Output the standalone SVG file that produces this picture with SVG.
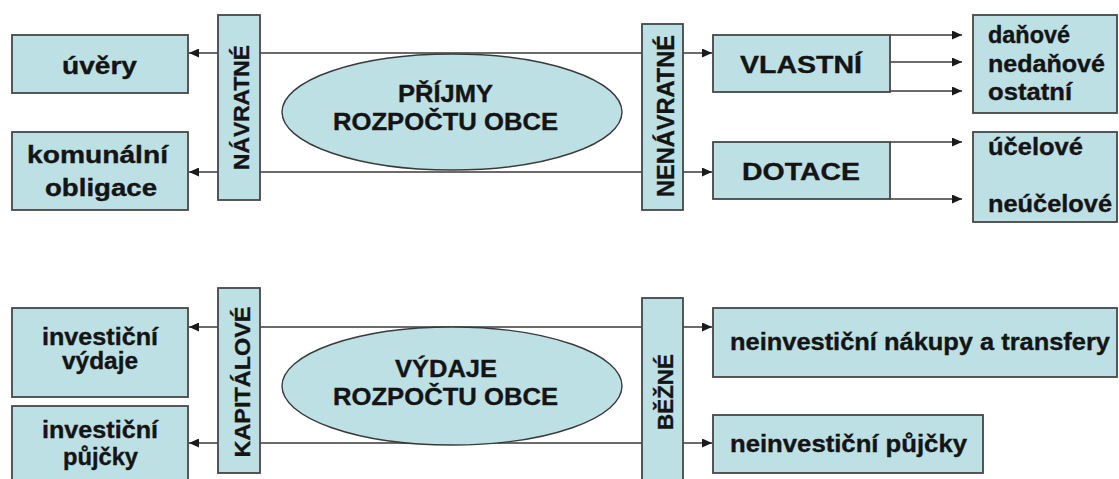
<svg xmlns="http://www.w3.org/2000/svg" width="1119" height="479" viewBox="0 0 1119 479">
<defs>
<style>
.box{fill:#bce0e4;stroke:#464646;stroke-width:1.8}
.ell{fill:#bce0e4;stroke:#3a3a3a;stroke-width:1.4}
.t{font-family:"Liberation Sans",Arial,sans-serif;font-weight:bold;font-size:23px;fill:#141414;stroke:#141414;stroke-width:0.35}
.v{font-size:22px}
.ln{stroke:#3a3a3a;stroke-width:1.5;fill:none}
.ar{stroke:#3a3a3a;stroke-width:1.5;fill:none;marker-end:url(#ah)}
</style>
<marker id="ah" markerUnits="userSpaceOnUse" markerWidth="11" markerHeight="9" refX="10" refY="4.5" orient="auto">
<path d="M0,0 L10,4.5 L0,9 Z" fill="#1a1a1a"/>
</marker>
</defs>
<rect width="1119" height="479" fill="#ffffff"/>

<g id="connectors">
<line class="ln" x1="260" y1="53" x2="642" y2="53"/>
<line class="ln" x1="260" y1="172" x2="642" y2="172"/>
<line class="ar" x1="218" y1="53" x2="189" y2="53"/>
<line class="ar" x1="218" y1="172" x2="189" y2="172"/>
<line class="ar" x1="683" y1="53" x2="712" y2="53"/>
<line class="ar" x1="683" y1="172" x2="712" y2="172"/>
<line class="ar" x1="890" y1="35" x2="962" y2="35"/>
<line class="ar" x1="890" y1="62" x2="962" y2="62"/>
<line class="ar" x1="890" y1="91" x2="962" y2="91"/>
<line class="ar" x1="890" y1="142" x2="962" y2="142"/>
<line class="ar" x1="890" y1="199" x2="962" y2="199"/>
<line class="ln" x1="260" y1="327" x2="642" y2="327"/>
<line class="ln" x1="260" y1="443" x2="642" y2="443"/>
<line class="ar" x1="218" y1="327" x2="189" y2="327"/>
<line class="ar" x1="218" y1="443" x2="189" y2="443"/>
<line class="ar" x1="683" y1="327" x2="712" y2="327"/>
<line class="ar" x1="683" y1="443" x2="712" y2="443"/>
</g>

<g id="uvery"><rect class="box" x="12" y="35" width="176" height="58"/>
<text class="t" x="62" y="74" textLength="75" lengthAdjust="spacingAndGlyphs">úvěry</text></g>
<g id="komunalni-obligace"><rect class="box" x="12" y="132" width="176" height="78"/>
<text class="t" x="27" y="163" textLength="141" lengthAdjust="spacingAndGlyphs">komunální</text>
<text class="t" x="45" y="196" textLength="112" lengthAdjust="spacingAndGlyphs">obligace</text></g>
<g id="navratne"><rect class="box" x="218" y="15" width="42" height="185"/>
<text class="t v" transform="translate(240.5,107.5) rotate(-90)" x="-62.5" y="8" textLength="125" lengthAdjust="spacingAndGlyphs">NÁVRATNÉ</text></g>
<g id="prijmy"><ellipse class="ell" cx="452" cy="112" rx="170" ry="58"/>
<text class="t" x="398" y="102" textLength="95" lengthAdjust="spacingAndGlyphs">PŘÍJMY</text>
<text class="t" x="333" y="130" textLength="225" lengthAdjust="spacingAndGlyphs">ROZPOČTU OBCE</text></g>
<g id="nenavratne"><rect class="box" x="642" y="24" width="41" height="186"/>
<text class="t" transform="translate(665,116) rotate(-90)" x="-81" y="8.5" textLength="162" lengthAdjust="spacingAndGlyphs">NENÁVRATNÉ</text></g>
<g id="vlastni"><rect class="box" x="713" y="35" width="177" height="57"/>
<text class="t" x="740" y="73" textLength="122" lengthAdjust="spacingAndGlyphs">VLASTNÍ</text></g>
<g id="dotace"><rect class="box" x="713" y="142" width="177" height="57"/>
<text class="t" x="742" y="180" textLength="118" lengthAdjust="spacingAndGlyphs">DOTACE</text></g>
<g id="danove"><rect class="box" x="973" y="15" width="144" height="98"/>
<text class="t" x="988" y="43" textLength="82" lengthAdjust="spacingAndGlyphs">daňové</text>
<text class="t" x="988" y="72" textLength="117" lengthAdjust="spacingAndGlyphs">nedaňové</text>
<text class="t" x="988" y="100" textLength="84" lengthAdjust="spacingAndGlyphs">ostatní</text></g>
<g id="ucelove"><rect class="box" x="973" y="132" width="144" height="90"/>
<text class="t" x="988" y="155" textLength="95" lengthAdjust="spacingAndGlyphs">účelové</text>
<text class="t" x="988" y="212" textLength="124" lengthAdjust="spacingAndGlyphs">neúčelové</text></g>

<g id="investicni-vydaje"><rect class="box" x="12" y="308" width="176" height="89"/>
<text class="t" x="42" y="345" textLength="116" lengthAdjust="spacingAndGlyphs">investiční</text>
<text class="t" x="62" y="369" textLength="76" lengthAdjust="spacingAndGlyphs">výdaje</text></g>
<g id="investicni-pujcky"><rect class="box" x="12" y="406" width="176" height="80"/>
<text class="t" x="42" y="438" textLength="116" lengthAdjust="spacingAndGlyphs">investiční</text>
<text class="t" x="63" y="465" textLength="75" lengthAdjust="spacingAndGlyphs">půjčky</text></g>
<g id="kapitalove"><rect class="box" x="218" y="288" width="42" height="185"/>
<text class="t v" transform="translate(241.5,382) rotate(-90)" x="-75.5" y="8" textLength="151" lengthAdjust="spacingAndGlyphs">KAPITÁLOVÉ</text></g>
<g id="vydaje"><ellipse class="ell" cx="452" cy="386" rx="170" ry="59"/>
<text class="t" x="395" y="377" textLength="102" lengthAdjust="spacingAndGlyphs">VÝDAJE</text>
<text class="t" x="333" y="405" textLength="225" lengthAdjust="spacingAndGlyphs">ROZPOČTU OBCE</text></g>
<g id="bezne"><rect class="box" x="642" y="298" width="41" height="190"/>
<text class="t v" transform="translate(665,392) rotate(-90)" x="-38" y="8" textLength="76" lengthAdjust="spacingAndGlyphs">BĚŽNÉ</text></g>
<g id="neinvesticni-nakupy"><rect class="box" x="713" y="308" width="404" height="69"/>
<text class="t" x="730" y="350" textLength="380" lengthAdjust="spacingAndGlyphs">neinvestiční nákupy a transfery</text></g>
<g id="neinvesticni-pujcky"><rect class="box" x="713" y="415" width="270" height="58"/>
<text class="t" x="730" y="452" textLength="237" lengthAdjust="spacingAndGlyphs">neinvestiční půjčky</text></g>
</svg>
